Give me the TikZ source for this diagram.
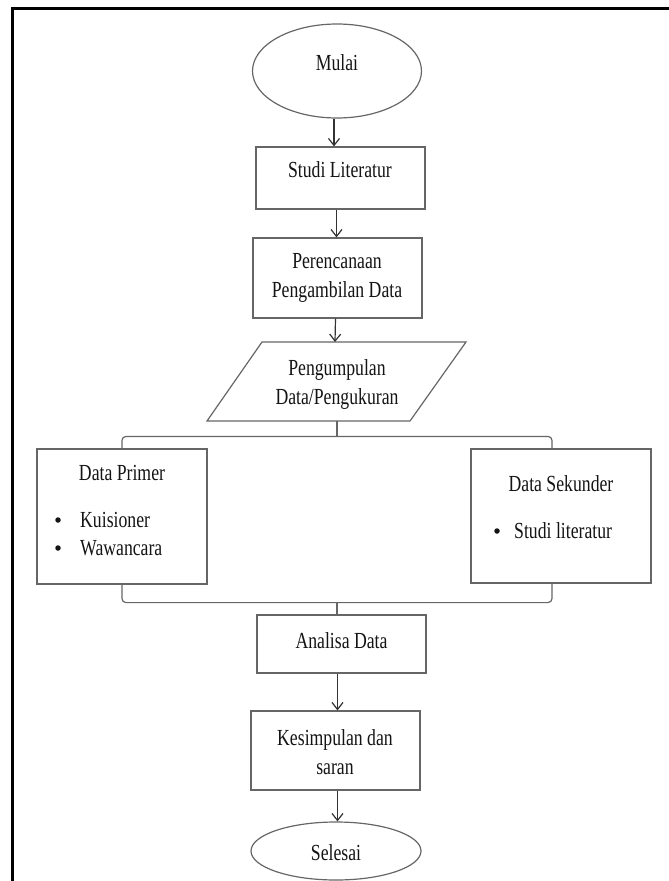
\documentclass[tikz,border=0pt]{standalone}
\usepackage{fontspec}
\setmainfont{Liberation Serif}[FakeStretch=0.77]
\usetikzlibrary{arrows.meta,shapes.geometric}
\begin{document}
\begin{tikzpicture}[x=1pt,y=-1pt,
  box/.style={draw=black!60, line width=1.2pt, rectangle, inner sep=0pt},
  oval/.style={draw=black!60, line width=1.2pt, ellipse, inner sep=0pt},
  txt/.style={font=\fontsize{23}{29}\selectfont, text=black!92, align=center, inner sep=0pt},
  ltxt/.style={font=\fontsize{23}{29}\selectfont, text=black!92, anchor=west, inner sep=0pt},
  dot/.style={circle, fill=black!92, inner sep=0pt, minimum size=5.5pt},
  arr/.style={draw=black!80, line width=1.2pt, -{Straight Barb[length=7pt,width=11pt,line width=1.2pt]}},
  link/.style={draw=black!60, line width=1.2pt, rounded corners=4pt}]
\path[use as bounding box] (0,0) rectangle (669,881);
\draw[line width=3pt] (12.5,895) -- (12.5,8) -- (685,8);

% shapes
\node[oval, minimum width=169pt, minimum height=94pt] (mulai) at (337,71) {};
\node[box, minimum width=169pt, minimum height=62pt] (studi) at (340.5,178) {};
\node[box, minimum width=169pt, minimum height=80pt] (renc) at (337.5,278) {};
\draw[draw=black!60, line width=1.2pt] (262,342) -- (466,342) -- (410,421) -- (207,421) -- cycle;
\coordinate (pgtop) at (335,342);
\coordinate (pgbot) at (337,421);
\node[box, minimum width=170pt, minimum height=135pt] (primer) at (122,516.5) {};
\node[box, minimum width=180pt, minimum height=134pt] (sekunder) at (561,516) {};
\node[box, minimum width=169pt, minimum height=58pt] (analisa) at (341.5,644) {};
\node[box, minimum width=169pt, minimum height=79pt] (kesimp) at (335.5,750.5) {};
\node[oval, minimum width=170pt, minimum height=58pt] (selesai) at (336,851) {};

% texts
\node[txt] (tmulai) at (337,63) {Mulai};
\node[txt] (tstudi) at (340,170) {Studi Literatur};
\node[txt] (trenc) at (337,278) {Perencanaan\\Pengambilan Data};
\node[txt] (tpeng) at (337,384) {Pengumpulan\\Data/Pengukuran};
\node[txt] (tprimer) at (122,473) {Data Primer};
\node[dot] (b1) at (58,520) {};
\node[ltxt] (kuis) at (80,520) {Kuisioner};
\node[dot] (b2) at (58,548) {};
\node[ltxt] (waw) at (80,548) {Wawancara};
\node[txt] (tsek) at (561,484) {Data Sekunder};
\node[dot] (b3) at (497,531) {};
\node[ltxt] (slit) at (514,531) {Studi literatur};
\node[txt] (tanal) at (341.5,641) {Analisa Data};
\node[txt] (tkes) at (335,752) {Kesimpulan dan\\saran};
\node[txt] (tsel) at (336,853) {Selesai};

% connectors
\draw[arr] ([xshift=-3pt]mulai.south) -- ([xshift=-3pt]mulai.south |- studi.north);
\draw[arr] ([xshift=-4pt]studi.south) -- ([xshift=-4pt]studi.south |- renc.north);
\draw[arr] ([xshift=-2pt]renc.south) -- (pgtop);
\coordinate (jtop) at (337,437);
\coordinate (jbot) at (337,602);
\draw[link] (pgbot) -- (jtop);
\draw[link] (primer.north) -- ++(0,-12) -| ([xshift=-9pt]sekunder.north);
\draw[link] (primer.south) -- ++(0,18) -| ([xshift=-9pt]sekunder.south);
\draw[link] (jbot) -- (jbot |- analisa.north);
\draw[arr] ([xshift=-4pt]analisa.south) -- ([xshift=-4pt]analisa.south |- kesimp.north);
\draw[arr] ([xshift=2pt]kesimp.south) -- ([xshift=2pt]kesimp.south |- selesai.north);
\end{tikzpicture}
\end{document}
